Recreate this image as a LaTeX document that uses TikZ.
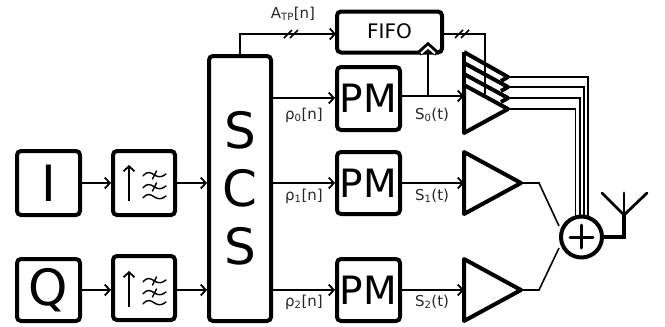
\documentclass[tikz,border=0pt]{standalone}
\usepackage{fontspec}
\setmainfont{DejaVu Sans}
\usetikzlibrary{arrows.meta,calc}
\tikzset{
  blk/.style={draw,line width=4pt,rounded corners=4pt,fill=white,inner sep=0pt,anchor=north west,align=center},
  conn/.style={line width=2.2pt,-{Straight Barb[length=5pt,width=11pt,line width=1.8pt]}},
  wire/.style={line width=2.2pt},
  thinw/.style={line width=1.6pt},
  amp/.style={line width=4pt,line join=round,fill=white},
  lab/.style={font=\fontsize{15}{15}\selectfont,inner sep=0pt,text=black!85},
  fwave/.style={line width=1.4pt,line cap=round},
  filt/.pic={
    \draw[line width=2.2pt,-{Straight Barb[length=5pt,width=11pt,line width=1.8pt]}] (0,36) -- (0,0);
    \foreach \yy in {10,22,32}{
      \draw[fwave] (14,\yy+1) .. controls (19,\yy-5) and (22,\yy-2) .. (25.5,\yy) .. controls (29,\yy+2) and (32,\yy+3) .. (37,\yy-1);
    }
    \foreach \yy in {10,22}{
      \draw[fwave] (27.5,\yy-4) -- (23.5,\yy+4);
    }
  }
}
\begin{document}
\begin{tikzpicture}[x=1pt,y=-1pt]
\useasboundingbox (0,0) rectangle (665,327);
% main blocks
\node[blk,minimum width=63pt,minimum height=64pt,font=\fontsize{50}{50}\selectfont] (I) at (15,149) {I};
\node[blk,minimum width=63pt,minimum height=62pt,font=\fontsize{50}{50}\selectfont] (Q) at (15,257) {Q};
\node[blk,minimum width=62pt,minimum height=64pt] (F1) at (111,149) {};
\node[blk,minimum width=62pt,minimum height=64pt] (F2) at (111,254) {};
\node[blk,minimum width=62pt,minimum height=265pt,font=\fontsize{50}{58}\selectfont] (SCS) at (207,54) {S\\C\\S};
\node[blk,minimum width=63pt,minimum height=63pt,font=\fontsize{39}{39}\selectfont] (PM0) at (335,65) {PM};
\node[blk,minimum width=63pt,minimum height=62pt,font=\fontsize{39}{39}\selectfont] (PM1) at (335,150) {PM};
\node[blk,minimum width=63pt,minimum height=62pt,font=\fontsize{39}{39}\selectfont] (PM2) at (335,257) {PM};
\node[blk,minimum width=105pt,minimum height=41pt,font=\fontsize{20}{20}\selectfont] (FIFO) at (335,9.5) {\raisebox{2pt}{FIFO}};
\pic at (129,165) {filt};
\pic at (129,271) {filt};
% coordinates
\coordinate (T0in) at (464,96);
\coordinate (T1in) at (464,183);
\coordinate (T2in) at (464,290);
\coordinate (T1out) at (521,183);
\coordinate (T2out) at (521,290);
\coordinate (K1) at (539,183);
\coordinate (K2) at (539,290);
\coordinate (SCSt) at (240,55);
\coordinate (Tk) at (240,34);
\coordinate (FIFOl) at (336,34);
\coordinate (FIFOr) at (443,34);
\coordinate (Kf) at (485,34);
\coordinate (Kfe) at (485,94);
\coordinate (Br) at (428,96);
\coordinate (Chev) at (428,50);
% connectors
\draw[conn] (I.east) -- (I.east -| F1.west);
\draw[conn] (F1.east) -- (F1.east -| SCS.west);
\draw[conn] (Q.east) -- (Q.east -| F2.west);
\draw[conn] (F2.east |- Q.east) -- (Q.east -| SCS.west);
\draw[conn] (SCS.east |- 0,98) -- (PM0.west |- 0,98);
\draw[conn] (SCS.east |- PM1.west) -- (PM1.west);
\draw[conn] (SCS.east |- PM2.west) -- (PM2.west);
\draw[conn] (SCSt) -- (Tk) -- (FIFOl);
\draw[wire] (FIFOr) -- (Kf) -- (Kfe);
\draw[conn] (PM0.east |- T0in) -- (T0in);
\draw[conn] (PM1.east) -- (T1in);
\draw[conn] (PM2.east) -- (T2in);
% bus ticks
\foreach \cx in {288,294,459,465}{
  \draw[line width=1.7pt] (\cx-4,38) -- (\cx+4,30);
}
% clock chevron
\draw[line width=5.5pt,line join=miter] (419,53.5) -- (428,45.5) -- (437,53.5);
\draw[line width=2pt,white,line join=miter] (421,53.5) -- (428,47) -- (435,53.5);
\draw[wire] (Br) -- (Chev);
% sum circle and bus wires
\foreach \yy/\xx in {77/588,87/584,98/580,109/575.5}{
  \draw[thinw] (508,\yy) -- (\xx,\yy) -- (\xx,218);
}
\node[circle,draw,line width=4pt,fill=white,minimum size=41pt,inner sep=0pt] (SUM) at (581.5,237) {};
\draw[line width=3pt,line cap=round] (570,237) -- (593,237);
\draw[line width=3pt,line cap=round] (581.5,225) -- (581.5,248);
\draw[line width=1.6pt] (T1out) -- (K1) -- (SUM.west |- 0,226);
\draw[line width=1.6pt] (T2out) -- (K2) -- (SUM.west |- 0,248);
% antenna
\coordinate (AntB) at (624,237);
\coordinate (AntJ) at (624,215);
\draw[line width=3.2pt,line join=miter] (SUM.east) -- (AntB) -- (AntJ);
\draw[line width=2.8pt,line cap=round] (602,193) -- (AntJ) -- (647,193);
\draw[line width=2.8pt,line cap=round] (624,193) -- (AntJ);
% amp stack
\draw[line width=4pt,line join=round] (464,52) -- (508,77) -- (501,81);
\draw[line width=4pt,line join=round] (464,63) -- (508,87) -- (501,91);
\draw[line width=4pt,line join=round] (464,74) -- (508,98) -- (501,102);
\draw[amp,fill=none] (464,52) -- (464,133);
\draw[amp] (464,85) -- (508,109) -- (464,133) -- cycle;
\draw[wire] (Kf) -- (Kfe);
\draw[amp] (464,152) -- (T1out) -- (464,214) -- cycle;
\draw[amp] (464,259) -- (T2out) -- (464,321) -- cycle;
% labels
\node[lab] (LA) at (293,14) {A\textsubscript{\fontsize{10}{10}\selectfont TP}[n]};
\node[lab] (Lr0) at (304,115) {ρ\textsubscript{\fontsize{10}{10}\selectfont 0}[n]};
\node[lab] (Lr1) at (304,196) {ρ\textsubscript{\fontsize{10}{10}\selectfont 1}[n]};
\node[lab] (Lr2) at (304,302) {ρ\textsubscript{\fontsize{10}{10}\selectfont 2}[n]};
\node[lab] (Ls0) at (432,115) {S\textsubscript{\fontsize{10}{10}\selectfont 0}(t)};
\node[lab] (Ls1) at (432,196) {S\textsubscript{\fontsize{10}{10}\selectfont 1}(t)};
\node[lab] (Ls2) at (432,302) {S\textsubscript{\fontsize{10}{10}\selectfont 2}(t)};
\end{tikzpicture}
\end{document}
